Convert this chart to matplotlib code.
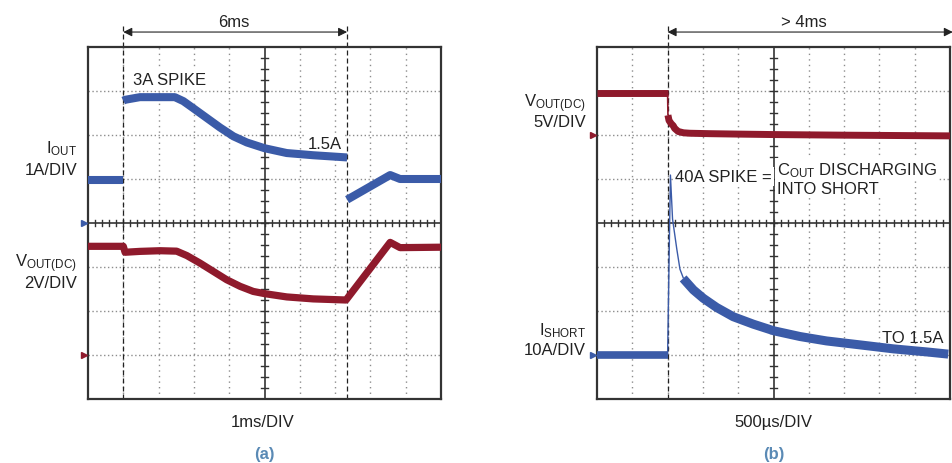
import numpy as np
import matplotlib.pyplot as plt

plt.rcParams['font.family'] = ['Liberation Sans Narrow', 'Liberation Sans', 'DejaVu Sans']

BLUE = '#3b5ba8'
RED = '#8f1a2c'
GRID = '#8c8c8c'
DARK = '#333333'

# panel (a): 1ms/DIV, IOUT 1A/DIV (ground at div 4), VOUT 2V/DIV (ground at div 1)
a_tdiv = 1.0
a_iout_div, a_iout_gnd = 1.0, 4
a_vout_div, a_vout_gnd = 2.0, 1
a_marks = [1.0, 7.34]

a_iout_t1 = [0.0, 1.0]
a_iout_1 = [0.98, 0.98]
a_iout_t2 = [1.0, 1.05, 1.47, 2.04, 2.46, 2.7, 2.98, 3.36, 3.74, 4.12, 4.5, 5.0, 5.63,
             6.38, 7.34]
a_iout_2 = [2.78, 2.8, 2.86, 2.86, 2.86, 2.77, 2.61, 2.39, 2.17, 1.97, 1.83, 1.7, 1.59,
            1.54, 1.49]
a_iout_t3 = [7.34, 8.56, 8.84, 10.0]
a_iout_3 = [0.53, 1.09, 1.0, 1.0]

a_vout_t = [0.0, 1.0, 1.05, 1.47, 2.04, 2.51, 2.8, 3.17, 3.55, 3.93, 4.31, 4.68, 5.0,
            5.63, 6.38, 7.31, 8.56, 8.84, 10.0]
a_vout = [4.94, 4.94, 4.67, 4.71, 4.74, 4.72, 4.52, 4.18, 3.8, 3.42, 3.12, 2.89, 2.79,
          2.64, 2.55, 2.5, 5.12, 4.88, 4.9]

# panel (b): 500us/DIV, VOUT 5V/DIV (ground at div 6), ISHORT 10A/DIV (ground at div 1)
b_tdiv = 500.0
b_vout_div, b_vout_gnd = 5.0, 6
b_ish_div, b_ish_gnd = 10.0, 1
b_mark = 1000.0

b_vout_t1 = [0, 1000]
b_vout_1 = [4.75, 4.75]
b_vout_tstep = [1000, 1005]
b_vout_step = [4.75, 2.25]
b_vout_t2 = [1005, 1020, 1050, 1080, 1100, 1150, 1225, 1315, 1600, 2025, 2500, 3500, 5000]
b_vout_2 = [2.25, 1.65, 1.3, 1.05, 0.75, 0.4, 0.25, 0.2, 0.15, 0.1, 0.05, -0.02, -0.1]

b_ish_t1 = [0, 1000]
b_ish_1 = [0.0, 0.0]
b_spike_t = [1000, 1040, 1070, 1130, 1175, 1225]
b_spike = [0.0, 40.9, 30.9, 24.1, 19.5, 17.4]
b_ish_t2 = [1220, 1365, 1505, 1695, 1930, 2215, 2505, 2875, 3250, 3725, 4195, 4670, 4975]
b_ish_2 = [17.4, 14.8, 12.9, 10.8, 8.7, 7.0, 5.5, 4.2, 3.2, 2.3, 1.4, 0.7, 0.2]

FS = 12


def scope_grid(ax):
    ax.set_xlim(0, 10)
    ax.set_ylim(0, 8)
    ax.set_xticks([])
    ax.set_yticks([])
    for s in ax.spines.values():
        s.set_color(DARK)
        s.set_linewidth(1.6)
    for i in range(1, 10):
        if i != 5:
            ax.axvline(i, color=GRID, lw=1.0, ls=(0, (1, 3)))
    for j in range(1, 8):
        if j != 4:
            ax.axhline(j, color=GRID, lw=1.0, ls=(0, (1, 1.8)))
    ax.axvline(5, color=DARK, lw=1.2)
    ax.axhline(4, color=DARK, lw=1.2)
    for x in np.arange(0.2, 10, 0.2):
        ax.plot([x, x], [3.93, 4.07], color=DARK, lw=1.0)
    for y in np.arange(0.25, 8, 0.25):
        ax.plot([4.915, 5.085], [y, y], color=DARK, lw=1.0)


def trace_axes(fig, rect, tdiv, vdiv, gnd, color):
    tax = fig.add_axes(rect, facecolor='none')
    tax.set_xlim(0, 10 * tdiv)
    tax.set_ylim(-gnd * vdiv, (8 - gnd) * vdiv)
    tax.axis('off')
    # ground marker
    tax.plot([-0.1 * tdiv], [0], marker='>', ms=4.5, color=color, clip_on=False)
    return tax


def trace(tax, t, v, color, lw):
    tax.plot(t, v, color=color, lw=lw, solid_capstyle='butt', solid_joinstyle='round')


def label(ax, x, y, s, ha='left', bg=False, **kw):
    kw.setdefault('fontsize', FS)
    bbox = dict(fc='white', ec='none', pad=1.5) if bg else None
    ax.text(x, y, s, ha=ha, va='baseline', color='#222222', bbox=bbox, **kw)


def span_arrow(ax, x0, x1, text, tx):
    for x in (x0, x1):
        if x <= 10:
            ax.plot([x, x], [0, 8.55], color='#222222', lw=0.9, ls=(0, (4, 2.4)),
                    clip_on=False)
    ax.annotate('', xy=(x1, 8.34), xytext=(x0, 8.34),
                arrowprops=dict(arrowstyle='<|-|>', color='#222222', lw=0.8,
                                mutation_scale=13, shrinkA=0, shrinkB=0),
                annotation_clip=False)
    label(ax, tx, 8.48, text, ha='center')


fig = plt.figure(figsize=(9.53, 4.64), dpi=100)
rect_a = [88 / 953, 64 / 464, 353 / 953, 352 / 464]
rect_b = [597 / 953, 64 / 464, 353 / 953, 352 / 464]

# ---- panel (a)
ax = fig.add_axes(rect_a)
scope_grid(ax)
span_arrow(ax, a_marks[0] / a_tdiv, a_marks[1] / a_tdiv, '6ms', 4.14)
label(ax, 1.27, 7.16, '3A SPIKE', bg=True)
label(ax, 7.2, 5.70, '1.5A', ha='right', bg=True)
label(ax, -0.31, 5.61, r'$\mathregular{I_{OUT}}$', ha='right')
label(ax, -0.31, 5.11, '1A/DIV', ha='right')
label(ax, -0.31, 3.02, r'$\mathregular{V_{OUT(DC)}}$', ha='right')
label(ax, -0.31, 2.55, '2V/DIV', ha='right')
label(ax, 4.95, -0.61, '1ms/DIV', ha='center')
ax.text(5.0, -1.34, '(a)', ha='center', va='baseline', fontsize=FS,
        fontweight='bold', color='#5a8ab5')

ti = trace_axes(fig, rect_a, a_tdiv, a_iout_div, a_iout_gnd, BLUE)
for t, v in ((a_iout_t1, a_iout_1), (a_iout_t2, a_iout_2), (a_iout_t3, a_iout_3)):
    trace(ti, t, v, BLUE, 5.8)
tv = trace_axes(fig, rect_a, a_tdiv, a_vout_div, a_vout_gnd, RED)
trace(tv, a_vout_t, a_vout, RED, 5.2)

# ---- panel (b)
bx = fig.add_axes(rect_b)
scope_grid(bx)
span_arrow(bx, b_mark / b_tdiv, 10.08, '> 4ms', 5.87)
label(bx, -0.31, 6.66, r'$\mathregular{V_{OUT(DC)}}$', ha='right')
label(bx, -0.31, 6.2, '5V/DIV', ha='right')
label(bx, 2.21, 4.95, '40A SPIKE =', bg=True)
label(bx, 5.1, 5.11, r'$\mathregular{C_{OUT}}$ DISCHARGING', bg=True)
label(bx, 5.1, 4.68, 'INTO SHORT', bg=True)
label(bx, -0.31, 1.48, r'$\mathregular{I_{SHORT}}$', ha='right')
label(bx, -0.31, 1.02, '10A/DIV', ha='right')
label(bx, 9.83, 1.3, 'TO 1.5A', ha='right')
label(bx, 5.0, -0.61, '500µs/DIV', ha='center')
bx.text(5.0, -1.34, '(b)', ha='center', va='baseline', fontsize=FS,
        fontweight='bold', color='#5a8ab5')

tv = trace_axes(fig, rect_b, b_tdiv, b_vout_div, b_vout_gnd, RED)
trace(tv, b_vout_t1, b_vout_1, RED, 5.0)
trace(tv, b_vout_tstep, b_vout_step, RED, 1.2)
trace(tv, b_vout_t2, b_vout_2, RED, 5.0)
ts = trace_axes(fig, rect_b, b_tdiv, b_ish_div, b_ish_gnd, BLUE)
trace(ts, b_ish_t1, b_ish_1, BLUE, 5.5)
trace(ts, b_spike_t, b_spike, BLUE, 1.0)
trace(ts, b_ish_t2, b_ish_2, BLUE, 6.5)

fig.savefig('out.png', dpi=100)
